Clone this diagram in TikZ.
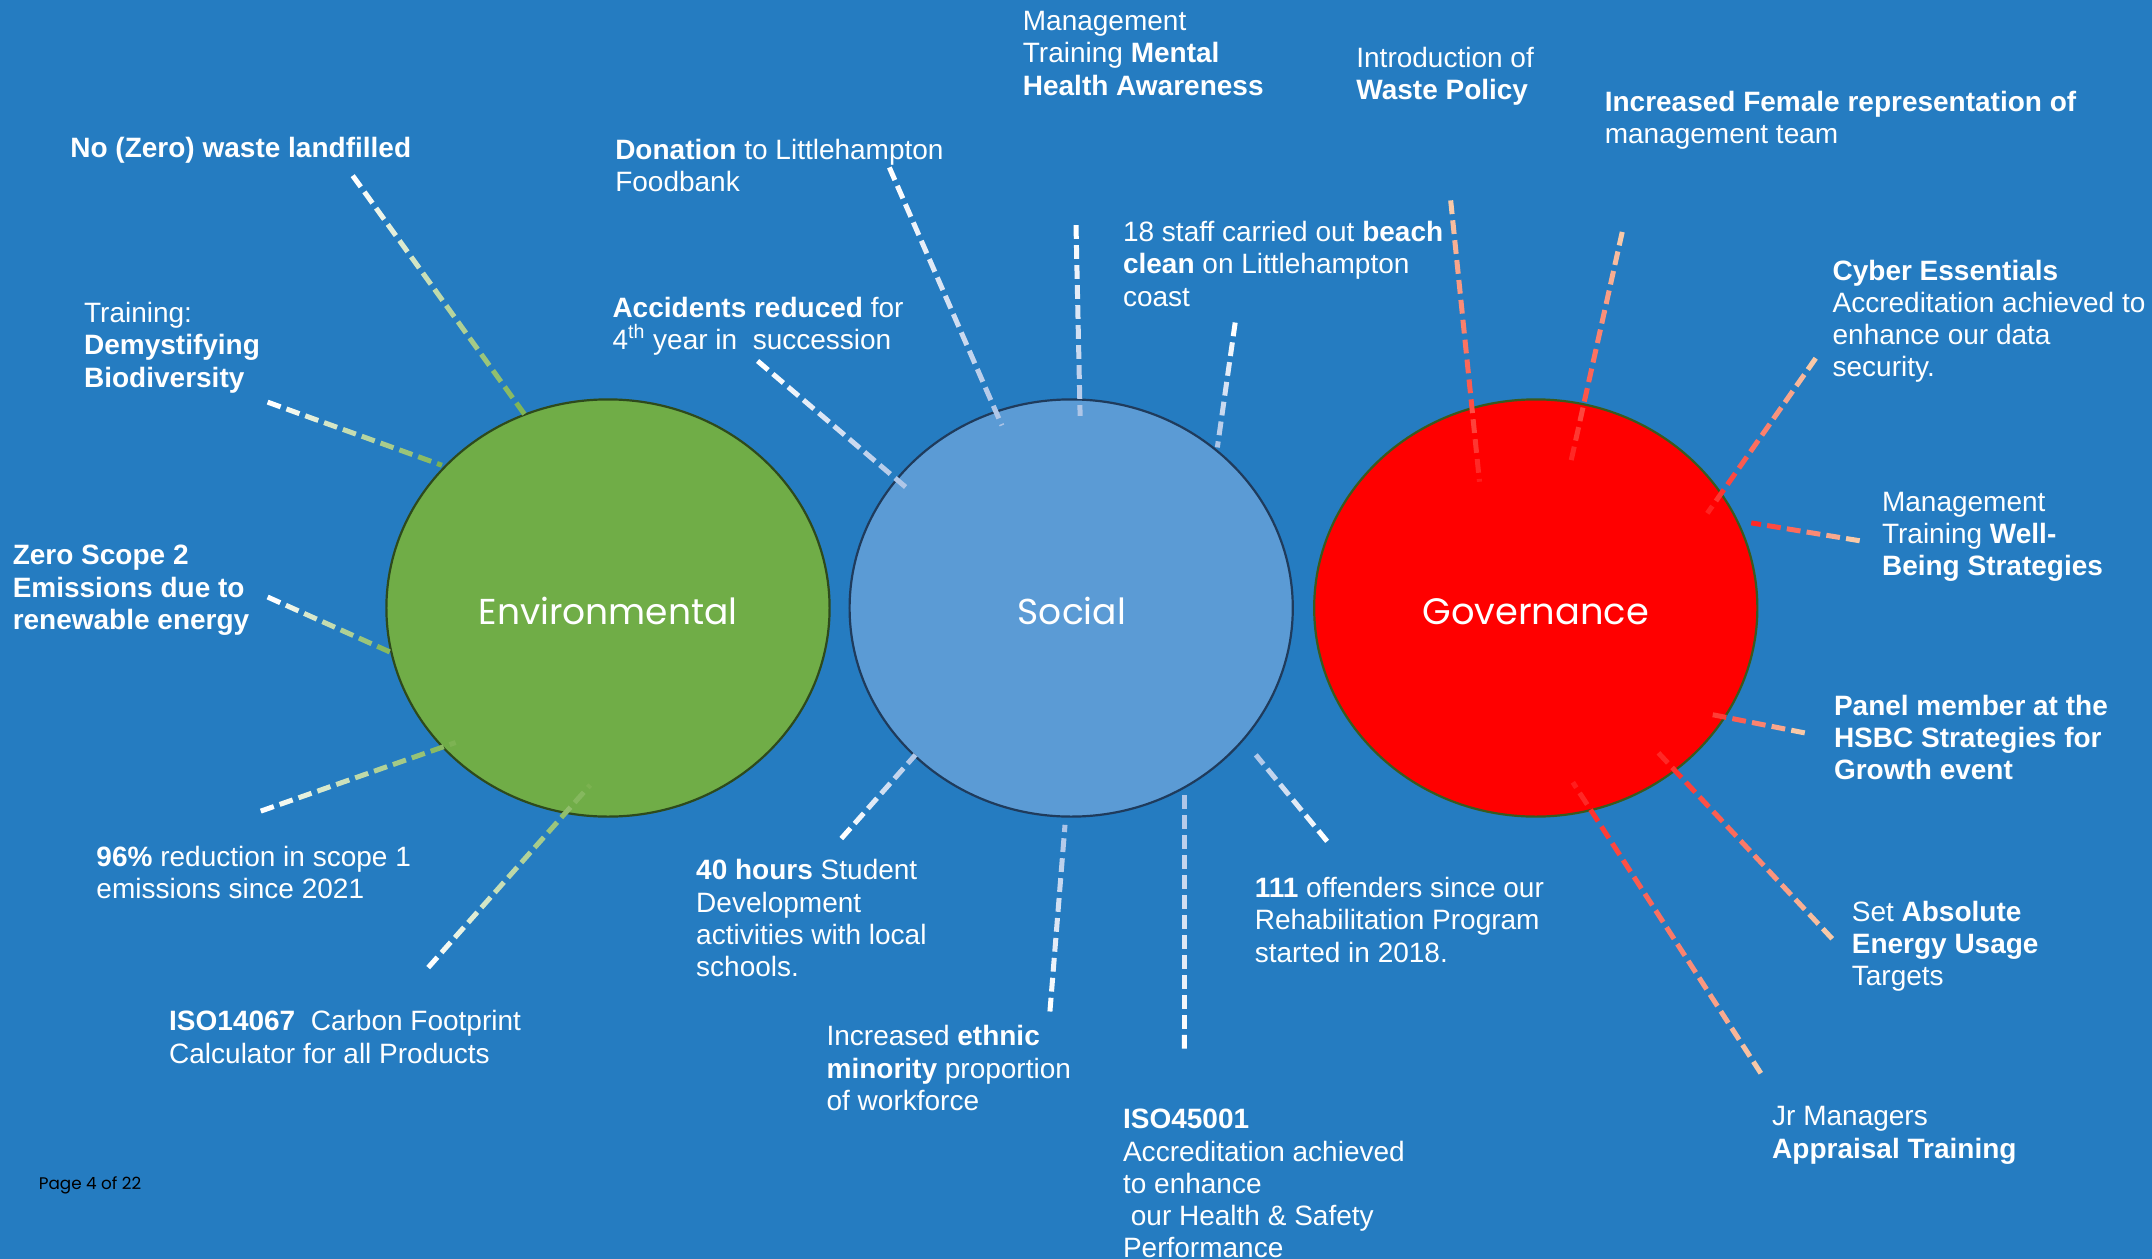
\documentclass[tikz,border=0pt]{standalone}
\usepackage{fontspec}
\setmainfont{Liberation Sans}
\newfontfamily\gothic{Poppins}
\usetikzlibrary{shapes.geometric,calc}
\definecolor{bg}{RGB}{37,124,193}
\definecolor{envfill}{HTML}{70AD47}
\definecolor{socfill}{HTML}{5B9BD5}
\definecolor{govfill}{HTML}{FF0000}
\definecolor{envedge}{HTML}{2E4A1C}
\definecolor{socedge}{HTML}{1F3B5C}
\definecolor{govedge}{HTML}{3A5A1E}
\definecolor{envray}{HTML}{78B04C}
\definecolor{socray}{HTML}{A9C2E6}
\definecolor{govin}{HTML}{FF1A1A}
\definecolor{govout}{HTML}{F8C9A8}
\def\grDash{6.9}
\def\grPeriod{10.0}
% gradient dashed ray: #1 outer coordinate, #2 inner coordinate, #3 outer colour, #4 inner colour
\newcommand\gradray[4]{%
  \path (#1); \pgfgetlastxy{\gAx}{\gAy}%
  \path (#2); \pgfgetlastxy{\gBx}{\gBy}%
  \pgfmathsetmacro\grL{veclen(\gBx-\gAx,\gBy-\gAy)}%
  \pgfmathtruncatemacro\grN{\grL/\grPeriod}%
  \foreach \k in {0,...,\grN}{%
    \pgfmathsetmacro\grS{\k*\grPeriod/\grL}%
    \pgfmathsetmacro\grE{min(1,(\k*\grPeriod+\grDash)/\grL)}%
    \pgfmathtruncatemacro\grP{100*\grS}%
    \ifdim\grS pt<1pt
      \draw[raystyle, color=#4!\grP!#3] ($(#1)!\grS!(#2)$) -- ($(#1)!\grE!(#2)$);
    \fi
  }%
}
\tikzset{
  raystyle/.style={line width=2.5pt, line cap=butt},
  lbl/.style={anchor=north west, inner sep=0pt, align=left, text=white,
    font=\fontsize{14}{16.1}\selectfont},
  pillar/.style={ellipse, inner sep=0pt, minimum width=221.6pt, minimum height=208.6pt,
    line width=1.1pt, text=white, font=\gothic\fontsize{18}{20}\selectfont},
}
\begin{document}
\begin{tikzpicture}[x=0.6862pt, y=-0.6862pt]
\useasboundingbox (0,0) rectangle (1568,917);
\fill[bg] (0,0) rectangle (1568,917);

% pillars
\node[pillar, draw=envedge, fill=envfill] (env) at (443,443) {};
\node[pillar, draw=socedge, fill=socfill] (soc) at (780.5,443) {};
\node[pillar, draw=govedge, fill=govfill] (gov) at (1119,443) {};
\node[text=white, font=\gothic\fontsize{18}{20}\selectfont, inner sep=0pt] (envT) at (443,445.5) {Environmental};
\node[text=white, font=\gothic\fontsize{18}{20}\selectfont, inner sep=0pt] (socT) at (781,445.5) {Social};
\node[text=white, font=\gothic\fontsize{18.4}{20}\selectfont, inner sep=0pt] (govT) at (1119,445.5) {Governance};

% ray end points (outer / inner)
\coordinate (e1o) at (257,128); \coordinate (e1i) at (383,303);
\coordinate (e2o) at (195,293); \coordinate (e2i) at (322,339);
\coordinate (e3o) at (195,435); \coordinate (e3i) at (284,475);
\coordinate (e4o) at (190,591); \coordinate (e4i) at (332,541);
\coordinate (e5o) at (312,705); \coordinate (e5i) at (430,572);
\coordinate (s1o) at (552,263); \coordinate (s1i) at (660,355);
\coordinate (s2o) at (648,122); \coordinate (s2i) at (730,310);
\coordinate (s3o) at (784,164); \coordinate (s3i) at (787,303);
\coordinate (s4o) at (900,235); \coordinate (s4i) at (887,326);
\coordinate (s5o) at (613,611); \coordinate (s5i) at (667,550);
\coordinate (s6o) at (765,737); \coordinate (s6i) at (776,601);
\coordinate (s7o) at (863,764); \coordinate (s7i) at (863,576);
\coordinate (s8o) at (967,613); \coordinate (s8i) at (915,550);
\coordinate (g1o) at (1057,146); \coordinate (g1i) at (1078,351);
\coordinate (g2o) at (1182,169); \coordinate (g2i) at (1144,339);
\coordinate (g3o) at (1323,261); \coordinate (g3i) at (1244,374);
\coordinate (g4o) at (1355,394); \coordinate (g4i) at (1276,381);
\coordinate (g5o) at (1315,534); \coordinate (g5i) at (1244,520);
\coordinate (g6o) at (1335,684); \coordinate (g6i) at (1206,546);
\coordinate (g7o) at (1283,782); \coordinate (g7i) at (1146,570);

\foreach \r in {e1,e2,e3,e4,e5}{\gradray{\r o}{\r i}{white}{envray}}
\foreach \r in {s1,s2,s3,s4,s5,s6,s7,s8}{\gradray{\r o}{\r i}{white}{socray}}
\foreach \r in {g1,g2,g3,g4,g5,g6,g7}{\gradray{\r o}{\r i}{govout}{govin}}

% environmental labels
\node[lbl] (envA) at (51,100) {\textbf{No (Zero) waste landfilled}};
\node[lbl] (envB) at (61,220) {Training:\\\textbf{Demystifying}\\\textbf{Biodiversity}};
\node[lbl] (envC) at (9,397) {\textbf{Zero Scope 2}\\\textbf{Emissions due to}\\\textbf{renewable energy}};
\node[lbl] (envD) at (70,616) {\textbf{96\%} reduction in scope 1\\emissions since 2021};
\node[lbl] (envE) at (123,736) {\textbf{ISO14067}~~Carbon Footprint\\Calculator for all Products};

% social labels
\node[lbl] (socA) at (448,101) {\textbf{Donation} to Littlehampton\\Foodbank};
\node[lbl] (socB) at (446,216) {\textbf{Accidents reduced} for\\4\textsuperscript{th} year in~~succession};
\node[lbl] (socC) at (745,8) {Management\\Training \textbf{Mental}\\\textbf{Health Awareness}};
\node[lbl] (socD) at (818,161) {18 staff carried out \textbf{beach}\\\textbf{clean} on Littlehampton\\coast};
\node[lbl] (socE) at (507,626) {\textbf{40 hours} Student\\Development\\activities with local\\schools.};
\node[lbl] (socF) at (602,747) {Increased \textbf{ethnic}\\\textbf{minority} proportion\\of workforce};
\node[lbl] (socG) at (818,808) {\textbf{ISO45001}\\Accreditation achieved\\to enhance\\\hspace*{0.28em}our Health \& Safety\\Performance};
\node[lbl] (socH) at (914,639) {\textbf{111} offenders since our\\Rehabilitation Program\\started in 2018.};

% governance labels
\node[lbl] (govA) at (988,34) {Introduction of\\\textbf{Waste Policy}};
\node[lbl] (govB) at (1169,66) {\textbf{Increased Female representation of}\\management team};
\node[lbl] (govC) at (1335,189) {\textbf{Cyber Essentials}\\Accreditation achieved to\\enhance our data\\security.};
\node[lbl] (govD) at (1371,358) {Management\\Training \textbf{Well-}\\\textbf{Being Strategies}};
\node[lbl] (govE) at (1336,506) {\textbf{Panel member at the}\\\textbf{HSBC Strategies for}\\\textbf{Growth event}};
\node[lbl] (govF) at (1349,656) {Set \textbf{Absolute}\\\textbf{Energy Usage}\\Targets};
\node[lbl] (govG) at (1291,806) {Jr Managers\\\textbf{Appraisal Training}};

% footer
\node[anchor=west, inner sep=0pt, text=black, font=\gothic\fontsize{8.4}{10}\selectfont] (page) at (28,864) {Page 4 of 22};
\end{tikzpicture}
\end{document}
